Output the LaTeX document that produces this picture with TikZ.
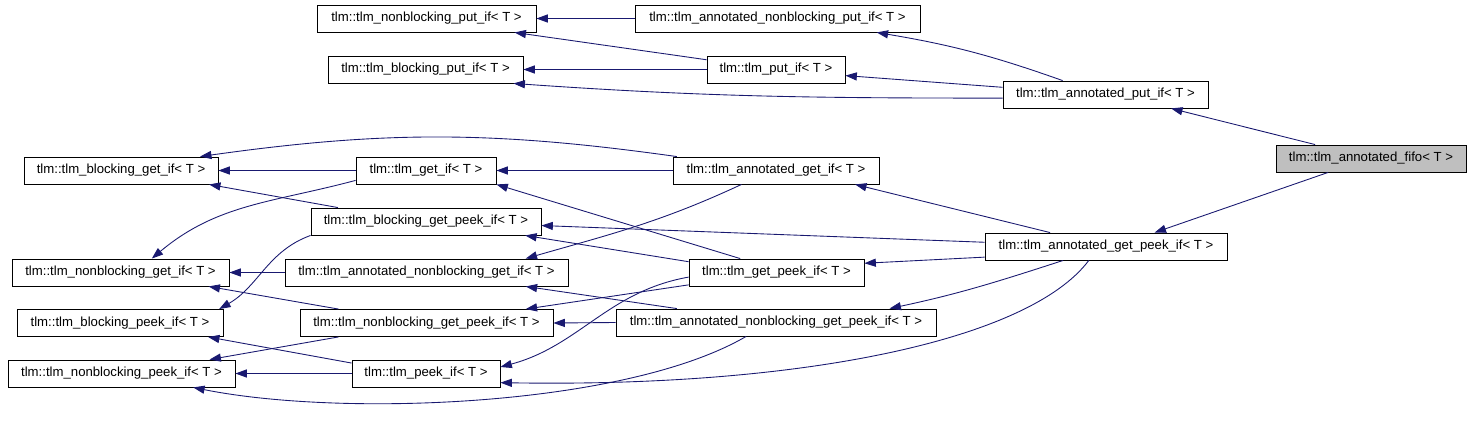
\documentclass[tikz,border=0pt]{standalone}
\usepackage{fontspec}
\setmainfont{Liberation Sans}
\usetikzlibrary{arrows.meta}
\definecolor{edgeblue}{RGB}{25,25,112}
\begin{document}
\begin{tikzpicture}[x=0.02cm,y=-0.02cm,
 cls/.style={draw,line width=0.5pt,minimum height=0.54cm,inner sep=0pt,font=\fontsize{7.5}{9}\selectfont},
 inh/.style={draw=edgeblue,line width=0.5pt,-{Triangle[length=6.5pt,width=4.6pt]}}]
 \useasboundingbox (0,0) rectangle (1472,427);
 \node[cls,minimum width=4.38cm] (nbput) at (426.5,18.5) {tlm::tlm\_nonblocking\_put\_if< T >};
 \node[cls,minimum width=5.70cm] (anbput) at (777.5,18.5) {tlm::tlm\_annotated\_nonblocking\_put\_if< T >};
 \node[cls,minimum width=3.90cm] (bput) at (425.5,69.5) {tlm::tlm\_blocking\_put\_if< T >};
 \node[cls,minimum width=2.76cm] (putif) at (776,69.5) {tlm::tlm\_put\_if< T >};
 \node[cls,minimum width=4.10cm] (aput) at (1105.5,94.5) {tlm::tlm\_annotated\_put\_if< T >};
 \node[cls,minimum width=3.80cm,fill=gray!50] (fifo) at (1371,158.5) {tlm::tlm\_annotated\_fifo< T >};
 \node[cls,minimum width=3.88cm] (bget) at (121,170.5) {tlm::tlm\_blocking\_get\_if< T >};
 \node[cls,minimum width=2.80cm] (getif) at (426,170.5) {tlm::tlm\_get\_if< T >};
 \node[cls,minimum width=4.12cm] (aget) at (776,170.5) {tlm::tlm\_annotated\_get\_if< T >};
 \node[cls,minimum width=4.60cm] (bgetpeek) at (426,221.5) {tlm::tlm\_blocking\_get\_peek\_if< T >};
 \node[cls,minimum width=4.84cm] (agetpeek) at (1106,246.5) {tlm::tlm\_annotated\_get\_peek\_if< T >};
 \node[cls,minimum width=4.34cm] (nbget) at (120.5,272.5) {tlm::tlm\_nonblocking\_get\_if< T >};
 \node[cls,minimum width=5.66cm] (anbget) at (426.5,272.5) {tlm::tlm\_annotated\_nonblocking\_get\_if< T >};
 \node[cls,minimum width=3.50cm] (getpeek) at (776.5,272.5) {tlm::tlm\_get\_peek\_if< T >};
 \node[cls,minimum width=4.12cm] (bpeek) at (120,323) {tlm::tlm\_blocking\_peek\_if< T >};
 \node[cls,minimum width=5.06cm] (nbgetpeek) at (426.5,323) {tlm::tlm\_nonblocking\_get\_peek\_if< T >};
 \node[cls,minimum width=6.40cm] (anbgetpeek) at (776,322.5) {tlm::tlm\_annotated\_nonblocking\_get\_peek\_if< T >};
 \node[cls,minimum width=4.54cm] (nbpeek) at (121.5,373.5) {tlm::tlm\_nonblocking\_peek\_if< T >};
 \node[cls,minimum width=2.96cm] (peekif) at (426,373.5) {tlm::tlm\_peek\_if< T >};
 \draw[inh] (anbput.west) -- (nbput.east);
 \draw[inh] (putif.172) -- (nbput.-9);
 \draw[inh] (putif.west) -- (bput.east);
 \draw[inh] (aput.182) to[out=180,in=-4] (bput.-9);
 \draw[inh] (aput.176) -- (putif.-5);
 \draw[inh] (aput.162) to[bend right=5] (anbput.-8);
 \draw[inh] (fifo.166) -- (aput.-12);
 \draw[inh] (fifo.198) -- (agetpeek.16);
 \draw[inh] (aget.172) to[out=172,in=8] (bget.10);
 \draw[inh] (aget.west) -- (getif.east);
 \draw[inh] (aget.-158) to[out=-155,in=16] (anbget.8);
 \draw[inh] (getif.west) -- (bget.east);
 \draw[inh] (getif.188) to[out=195,in=40] (nbget.24);
 \draw[inh] (bgetpeek.171) -- (bget.-9);
 \draw[inh] (bgetpeek.south west) to[out=200,in=30] (bpeek.8);
 \draw[inh] (agetpeek.178) -- (bgetpeek.-2);
 \draw[inh] (agetpeek.166) -- (aget.-10);
 \draw[inh] (agetpeek.185) -- (getpeek.6);
 \draw[inh] (agetpeek.198) to[out=198,in=12] (anbgetpeek.7);
 \draw[inh] (agetpeek.-141) .. controls +(-60,80) and +(300,5) .. (peekif.-7);
 \draw[inh] (getpeek.159) -- (getif.south east);
 \draw[inh] (getpeek.173) -- (bgetpeek.-8);
 \draw[inh] (getpeek.183) to[out=190,in=15] (peekif.5);
 \draw[inh] (getpeek.188) -- (nbgetpeek.8);
 \draw[inh] (anbget.west) -- (nbget.east);
 \draw[inh] (nbgetpeek.171) -- (nbget.-9);
 \draw[inh] (nbgetpeek.189) -- (nbpeek.9);
 \draw[inh] (anbgetpeek.west) -- (nbgetpeek.east);
 \draw[inh] (anbgetpeek.172) -- (anbget.-8);
 \draw[inh] (anbgetpeek.205) .. controls +(-120,70) and +(150,30) .. (nbpeek.-11);
 \draw[inh] (peekif.172) -- (bpeek.-9);
 \draw[inh] (peekif.west) -- (nbpeek.east);
\end{tikzpicture}
\end{document}
